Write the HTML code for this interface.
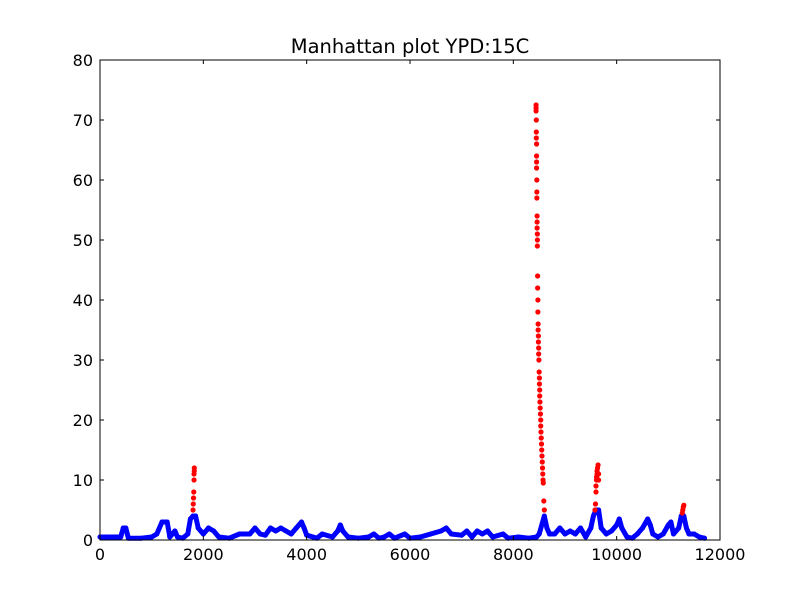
<!DOCTYPE html>
<html><head><meta charset="utf-8"><style>
body{margin:0;background:#fff;}
svg{display:block;font-family:"DejaVu Sans","Liberation Sans",sans-serif;}
</style></head><body>
<svg id="chart" width="800" height="600"></svg>
<script>
const xTicks=[0,2000,4000,6000,8000,10000,12000];
const yTicks=[0,10,20,30,40,50,60,70,80];
const blueX=[0,200,400,450,500,550,800,1000,1100,1200,1300,1350,1450,1500,1600,1700,1750,1800,1850,1900,2000,2100,2200,2300,2500,2700,2900,3000,3100,3200,3300,3400,3500,3600,3700,3800,3900,3950,4000,4200,4300,4500,4600,4650,4700,4800,5000,5200,5300,5400,5500,5600,5700,5900,6000,6200,6400,6600,6700,6800,7000,7100,7200,7300,7400,7500,7600,7800,7900,8100,8300,8450,8500,8600,8650,8700,8800,8900,9000,9100,9200,9300,9400,9500,9550,9600,9650,9700,9800,9900,10000,10050,10100,10200,10300,10400,10500,10600,10650,10700,10800,10900,11000,11050,11100,11200,11250,11300,11350,11400,11500,11600,11700];
const blueY=[0.5,0.5,0.5,2,2,0.3,0.3,0.5,1,3,3,0.5,1.5,0.5,0.3,1,3.5,4,4,2,1,2,1.5,0.5,0.3,1,1,2,1,0.8,2,1.5,2,1.5,1,2,3,2,0.8,0.3,1,0.5,1.5,2.5,1.5,0.5,0.3,0.5,1,0.3,0.5,1,0.3,1,0.3,0.5,1,1.5,2,1,0.8,1.5,0.5,1.5,1,1.5,0.5,1,0.3,0.5,0.3,0.5,1,4,2,1,1,2,1,1.5,1,2,0.5,2,4,5,5,2,1,1.5,2.5,3.5,2,0.5,0.3,1,2,3.5,2.5,1,0.5,1,2.5,3,1,2,4,4,2,1,1,0.5,0.3];
const redX=[1800,1805,1810,1815,1820,1820,1825,1825,
8440,8440,8440,8445,8445,8445,8450,8450,8450,8450,8455,8455,8455,8460,8460,8460,8465,8465,8465,
8470,8470,8475,8475,8480,8480,8485,8485,8490,8490,8495,
8500,8505,8505,8510,8510,8515,8520,8525,8530,8530,8535,8540,8545,8550,8555,8560,8565,8570,8575,
8580,8590,8600,
9580,9590,9600,9600,9610,9610,9620,9620,9630,9640,9650,9650,
11270,11280,11290,11300];
const redY=[5,6,7,8,10,11,11.5,12,
72.5,72,71.5,70,68,67,66,64,63,62,60,58,57,54,53,52,51,50,49,
44,42,40,38,36,35,34,33,32,31,30,
28,27,26,25,24,23,22,21,20,19,18,17,16,15,14,13,12,11,10,
9.5,6.5,5,
5,6,8,9,10,10.5,11,11.5,12,12.5,10,11,
4.5,5,5.5,5.8];
const L=100,R=720,T=60,B=540;
const sx=v=>L+(v-0)/12000*(R-L);
const sy=v=>B-(v-0)/80*(B-T);
const NS="http://www.w3.org/2000/svg";
const svg=document.getElementById('chart');
function mk(tag,attrs,parent){const e=document.createElementNS(NS,tag);for(const k in attrs)e.setAttribute(k,attrs[k]);(parent||svg).appendChild(e);return e;}
const t=mk('text',{x:410,y:53,'text-anchor':'middle','font-size':19.5});t.textContent='Manhattan plot YPD:15C';


const gB=mk('g',{});


let pts=blueX.map((x,i)=>sx(x).toFixed(1)+','+sy(blueY[i]).toFixed(1)).join(' ');
mk('polyline',{points:pts,fill:'none',stroke:'#0000ff','stroke-width':5,'stroke-linejoin':'round','stroke-linecap':'round'},gB);
blueX.forEach((x,i)=>{const c=mk('circle',{cx:sx(x),cy:sy(blueY[i]),r:2.5,fill:'#0000ff'},gB);

});
const gR=mk('g',{});


redX.forEach((x,i)=>{const c=mk('circle',{cx:sx(x),cy:sy(redY[i]),r:2.6,fill:'#ff0000'},gR);

});
const fr=mk('rect',{x:L,y:T,width:R-L,height:B-T,fill:'none',stroke:'#000','stroke-width':1});


xTicks.forEach(v=>{const x=sx(v);
mk('line',{x1:x,x2:x,y1:B,y2:B-4,stroke:'#000'});mk('line',{x1:x,x2:x,y1:T,y2:T+4,stroke:'#000'});
const tx=mk('text',{x:x,y:B+20,'text-anchor':'middle','font-size':16});tx.textContent=v;

});
yTicks.forEach(v=>{const y=sy(v);
mk('line',{x1:L,x2:L+4,y1:y,y2:y,stroke:'#000'});mk('line',{x1:R,x2:R-4,y1:y,y2:y,stroke:'#000'});
const ty=mk('text',{x:L-7,y:y+6,'text-anchor':'end','font-size':16});ty.textContent=v;

});
</script>
</body></html>
